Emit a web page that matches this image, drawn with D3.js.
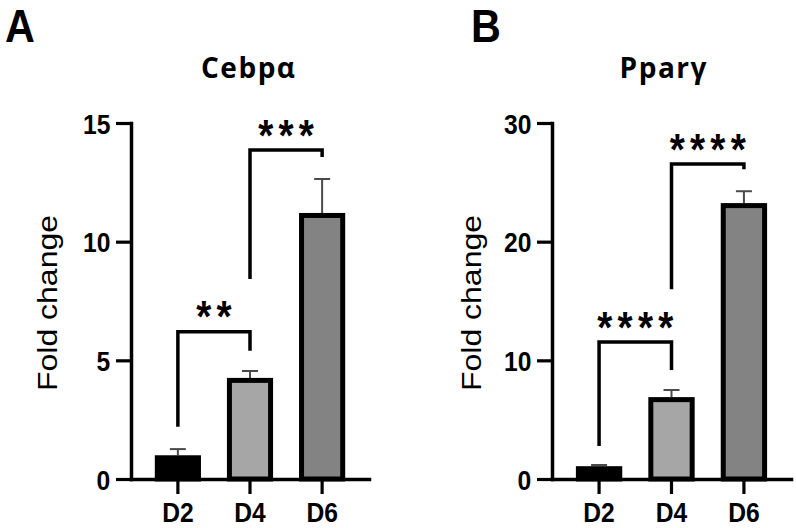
<!DOCTYPE html>
<html>
<head>
<meta charset="utf-8">
<script src="https://cdn.jsdelivr.net/npm/d3@7"></script>
<style>
  body { margin:0; background:#fff; }
  svg { display:block; }
</style>
</head>
<body>
<div id="chart"></div>
<script>
// data
var categories = ["D2", "D4", "D6"]
var cebpaMeans = [1.0, 4.26, 11.21]
var cebpaErrors = [0.26, 0.29, 1.43]
var ppargMeans = [1.08, 6.9, 23.25]
var ppargErrors = [0.1, 0.6, 1.0]
var cebpaTicks = [0, 5, 10, 15]
var ppargTicks = [0, 10, 20, 30]
var barColors = ["#000000", "#a6a6a6", "#838383"]
// significance brackets: from, to, bracket top, left leg end, right leg end
var cebpaBrackets = [
  {from:"D2", to:"D4", top:6.2, left:2.2, right:5.4, label:"**"},
  {from:"D4", to:"D6", top:13.86, left:8.43, right:13.57, label:"***"}
]
var ppargBrackets = [
  {from:"D2", to:"D4", top:11.54, left:2.78, right:9.18, label:"****"},
  {from:"D4", to:"D6", top:26.54, left:16.0, right:26.1, label:"****"}
]

var W = 796, H = 528
var squeeze = 0.88 // the picture is a bit narrower than tall
var axisFont = "'Liberation Sans', Arial, sans-serif"

var svg = d3.select("#chart").append("svg")
  .attr("width", W).attr("height", H)

function draw_panel(cfg){
  var g = svg.append("g")
  var x = d3.scaleBand().domain(categories)
    .range([cfg.left, cfg.right]).paddingInner(0.36).paddingOuter(0.33)
  var y = d3.scaleLinear().domain([0, cfg.max]).range([479, 123])
  var sw = 5

  // error bars (behind the bars)
  var eb = g.selectAll(".err").data(categories).join("g")
  eb.append("line")
    .attr("x1", d => x(d) + x.bandwidth()/2).attr("x2", d => x(d) + x.bandwidth()/2)
    .attr("y1", (d,i) => y(cfg.means[i])).attr("y2", (d,i) => y(cfg.means[i] + cfg.errs[i]))
    .attr("stroke", "#4a4a4a").attr("stroke-width", 2)
  eb.append("line")
    .attr("x1", d => x(d) + x.bandwidth()/2 - 8).attr("x2", d => x(d) + x.bandwidth()/2 + 8)
    .attr("y1", (d,i) => y(cfg.means[i] + cfg.errs[i])).attr("y2", (d,i) => y(cfg.means[i] + cfg.errs[i]))
    .attr("stroke", "#4a4a4a").attr("stroke-width", 2)

  // bars
  g.selectAll(".bar").data(categories).join("rect")
    .attr("x", d => x(d) + sw/2)
    .attr("width", x.bandwidth() - sw)
    .attr("y", (d,i) => y(cfg.means[i]) + sw/2)
    .attr("height", (d,i) => y(0) - y(cfg.means[i]) - sw/2)
    .attr("fill", (d,i) => barColors[i])
    .attr("stroke", "#000").attr("stroke-width", sw)

  // axes
  var ya = g.append("g").attr("transform", `translate(${cfg.left},0)`)
    .call(d3.axisLeft(y).tickValues(cfg.ticks).tickSize(15).tickSizeOuter(0).tickPadding(8.5))
  var xa = g.append("g").attr("transform", `translate(0,${y(0)})`)
    .call(d3.axisBottom(x).tickSize(15).tickSizeOuter(0).tickPadding(8))
  ;[ya, xa].forEach(function(a){
    a.selectAll("path").attr("stroke", "#000").attr("stroke-width", 3.5).attr("stroke-linecap", "square")
    a.selectAll("line").attr("stroke", "#000").attr("stroke-width", 3.2)
    a.selectAll("text").style("font-family", axisFont).style("font-weight", "bold")
      .style("font-size", "28px").attr("fill", "#000")
  })
  ya.selectAll("text").attr("transform", `scale(${squeeze},1)`).attr("dy", "0.36em")
  xa.selectAll("text").attr("transform", `scale(${squeeze},1)`).attr("dy", "0")
    .attr("y", 43)

  // brackets and stars
  cfg.brackets.forEach(function(b){
    var xl = x(b.from) + x.bandwidth()/2, xr = x(b.to) + x.bandwidth()/2
    g.append("path")
      .attr("d", `M${xl},${y(b.left)}V${y(b.top)}H${xr}V${y(b.right)}`)
      .attr("fill", "none").attr("stroke", "#000").attr("stroke-width", 3.5)
    var fs = 44, ls = 6
    g.append("text")
      .attr("transform", `translate(${(xl+xr)/2 + ls*squeeze/2},${y(b.top) - 24 + 0.56*fs}) scale(${squeeze},1)`)
      .attr("text-anchor", "middle")
      .style("font-family", axisFont).style("font-weight", "bold")
      .style("font-size", fs + "px").style("letter-spacing", ls + "px")
      .text(b.label)
  })

  // title, axis label, panel letter
  var tls = 1.5
  g.append("text")
    .attr("transform", `translate(${cfg.titleX + tls/2},78)`)
    .attr("text-anchor", "middle")
    .style("font-family", "'Open Sans', sans-serif").style("font-weight", "700")
    .style("font-size", "28px").style("letter-spacing", tls + "px")
    .text(cfg.title)
  g.append("text")
    .attr("transform", `translate(${cfg.labelX},303) scale(${squeeze},1) rotate(-90)`)
    .attr("text-anchor", "middle")
    .style("font-family", axisFont).style("font-size", "32px")
    .text("Fold change")
  g.append("text")
    .attr("transform", `translate(${cfg.letterX},42) scale(${squeeze},1)`)
    .style("font-family", axisFont).style("font-weight", "bold")
    .style("font-size", "47px")
    .text(cfg.letter)
}

draw_panel({left:131, right:369, max:15, means:cebpaMeans, errs:cebpaErrors,
  ticks:cebpaTicks, brackets:cebpaBrackets, title:"Cebpα", titleX:248,
  labelX:57, letter:"A", letterX:5})
draw_panel({left:552, right:791, max:30, means:ppargMeans, errs:ppargErrors,
  ticks:ppargTicks, brackets:ppargBrackets, title:"Pparγ", titleX:663,
  labelX:481, letter:"B", letterX:471})
</script>
</body>
</html>
